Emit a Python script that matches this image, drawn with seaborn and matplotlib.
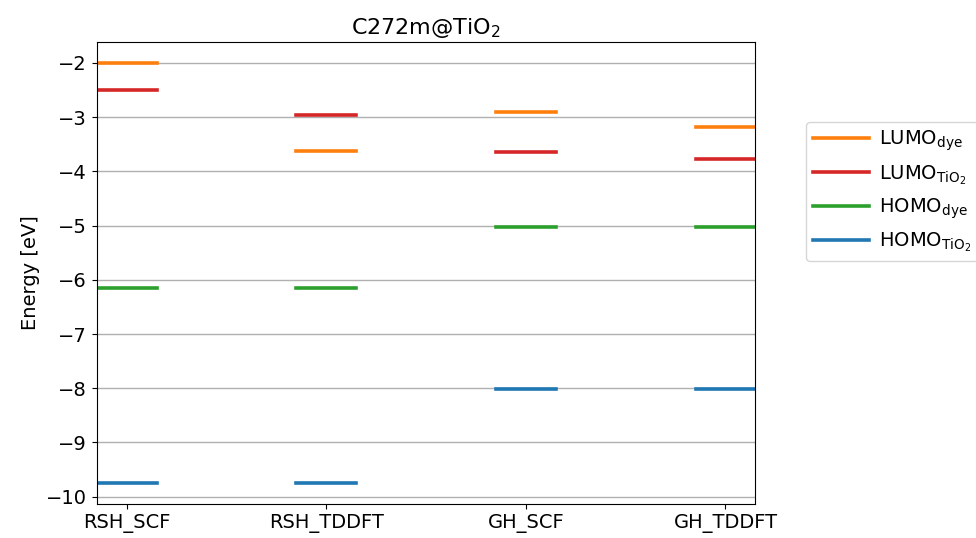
import numpy as np
import pandas as pd
import matplotlib
matplotlib.use("Agg")
import matplotlib.pyplot as plt
import seaborn as sns
from matplotlib.lines import Line2D

methods = ["RSH_SCF", "RSH_TDDFT", "GH_SCF", "GH_TDDFT"]
lumo_dye = [-2.00, -3.63, -2.91, -3.18]
lumo_tio2 = [-2.50, -2.96, -3.64, -3.77]
homo_dye = [-6.16, -6.16, -5.03, -5.03]
homo_tio2 = [-9.75, -9.75, -8.02, -8.02]

levels = ["LUMO_dye", "LUMO_TiO2", "HOMO_dye", "HOMO_TiO2"]
labels = [r"LUMO$_{\mathrm{dye}}$", r"LUMO$_{\mathrm{TiO_2}}$",
          r"HOMO$_{\mathrm{dye}}$", r"HOMO$_{\mathrm{TiO_2}}$"]
colors = ["#ff7f0e", "#d62728", "#2ca02c", "#1f77b4"]
series = [lumo_dye, lumo_tio2, homo_dye, homo_tio2]

half = 0.15
rows = []
for lvl, vals in zip(levels, series):
    for i, (m, v) in enumerate(zip(methods, vals)):
        for dx in (-half, half):
            rows.append({"x": i + dx, "E": v, "level": lvl, "unit": f"{lvl}_{m}"})
df = pd.DataFrame(rows)

fig = plt.figure(figsize=(9.76, 5.38), dpi=100)
ax = fig.add_axes([0.099, 0.063, 0.675, 0.859])

sns.lineplot(data=df, x="x", y="E", hue="level", units="unit", estimator=None,
             palette=dict(zip(levels, colors)), hue_order=levels,
             linewidth=2.6, legend=False, ax=ax)

ax.set_xlim(-half, len(methods) - 1 + half)
ax.set_xticks(range(len(methods)))
ax.set_xticklabels(methods)
ax.yaxis.grid(True, color="#b0b0b0", linewidth=1)
ax.set_axisbelow(True)
ax.tick_params(labelsize=14)
ax.set_xlabel("")
ax.set_ylabel("Energy [eV]", fontsize=14)
ax.set_title(r"C272m@TiO$_2$", fontsize=16)

handles = [Line2D([0], [0], color=c, lw=2.6) for c in colors]
ax.legend(handles, labels, loc="upper left", bbox_to_anchor=(1.077, 0.827),
          fontsize=14, handlelength=2.9, handletextpad=0.5, borderpad=0.35,
          borderaxespad=0)

fig.savefig("out.png", dpi=100)
